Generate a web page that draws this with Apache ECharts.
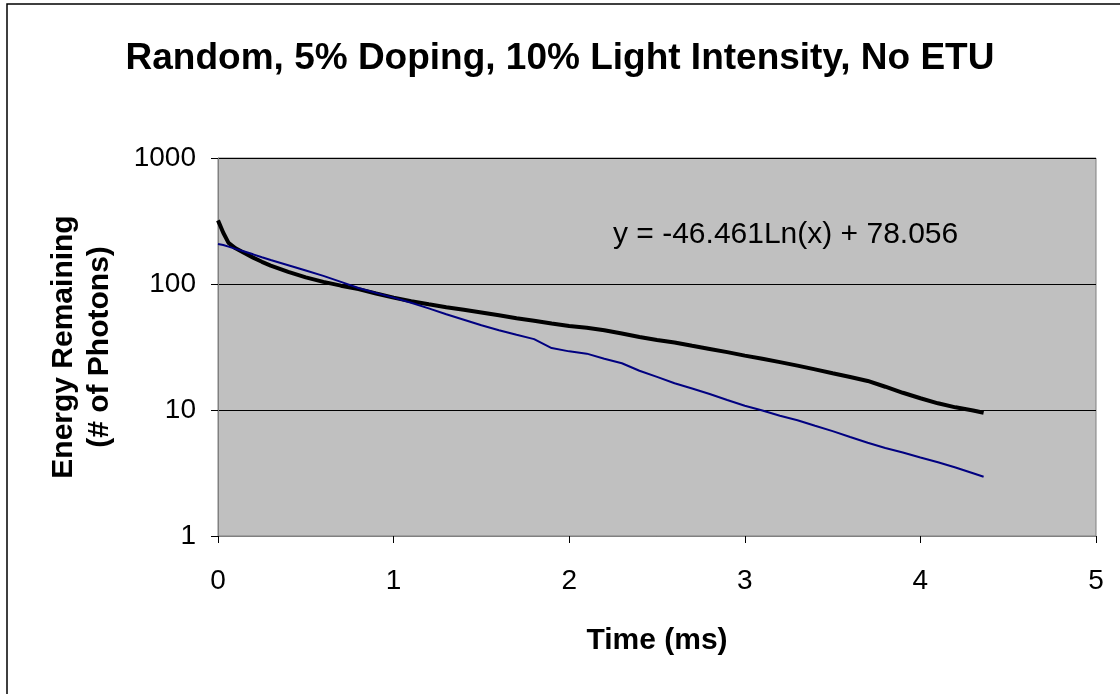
<!DOCTYPE html>
<html>
<head>
<meta charset="utf-8">
<script src="https://cdn.jsdelivr.net/npm/echarts@6/dist/echarts.min.js"></script>
<style>
  html, body { margin: 0; padding: 0; background: #fff; }
  #main { width: 1120px; height: 694px; }
</style>
</head>
<body>
<div id="main"></div>
<script>
// time (ms), shared by both curves
var times = [0, 0.03, 0.06, 0.1, 0.15, 0.2, 0.25, 0.3,
  0.4, 0.5, 0.6, 0.7, 0.8, 0.9, 1.0, 1.1, 1.2, 1.3, 1.4, 1.5,
  1.6, 1.7, 1.8, 1.9, 2.0, 2.1, 2.2, 2.3, 2.4, 2.5,
  2.6, 2.7, 2.8, 2.9, 3.0, 3.1, 3.2, 3.3, 3.4, 3.5,
  3.6, 3.7, 3.8, 3.9, 4.0, 4.1, 4.2, 4.3, 4.36];

// thick black curve
var energyBlack = [320, 255, 212, 192, 176, 162, 150, 140,
  125, 113, 104, 97, 91, 84, 78, 73, 69, 65.5, 62.5, 59.5,
  56.5, 53.5, 51, 48.5, 46.5, 45, 43, 40.5, 38, 36,
  34.3, 32.3, 30.5, 28.8, 27, 25.5, 24, 22.5, 21, 19.6,
  18.3, 17, 15.3, 13.7, 12.4, 11.3, 10.5, 9.9, 9.5];

// thin blue curve
var energyBlue = [208, 204, 198, 190, 181, 172, 163, 155,
  141, 128, 116, 104, 93, 85, 78, 71, 64, 57.5, 52, 47,
  43, 39.5, 36.5, 31, 29.2, 28, 25.5, 23.5, 20.5, 18.3,
  16.3, 14.8, 13.4, 12.0, 10.8, 9.9, 9.0, 8.3, 7.5, 6.8,
  6.1, 5.5, 5.0, 4.6, 4.2, 3.85, 3.5, 3.15, 2.95];

var titleText = "Random, 5% Doping, 10% Light Intensity, No ETU";
var trendText = "y = -46.461Ln(x) + 78.056";

function pairs(xs, ys) {
  return xs.map(function (x, i) { return [x, ys[i]]; });
}

var font = "'Liberation Sans', Arial, sans-serif";

var chart = echarts.init(document.getElementById("main"), null, { renderer: "canvas" });

var option = {
  animation: false,
  title: {
    text: titleText,
    left: "center",
    top: 35,
    textStyle: { fontFamily: font, fontSize: 37, fontWeight: "bold", color: "#000" }
  },
  grid: {
    left: 218, top: 158, right: 24, bottom: 158,
    show: true,
    backgroundColor: "#c0c0c0",
    borderColor: "#808080",
    borderWidth: 1
  },
  xAxis: {
    type: "value",
    min: 0, max: 5, interval: 1,
    name: "Time (ms)",
    nameLocation: "middle",
    nameGap: 90,
    nameTextStyle: { fontFamily: font, fontSize: 30, fontWeight: "bold", color: "#000" },
    axisLine: { show: true, lineStyle: { color: "#808080", width: 1 } },
    axisTick: { show: true, inside: false, length: 7, lineStyle: { color: "#000" } },
    axisLabel: { fontFamily: font, fontSize: 28, color: "#000", margin: 31 },
    splitLine: { show: false }
  },
  yAxis: {
    type: "log",
    logBase: 10,
    min: 1, max: 1000,
    name: "Energy Remaining\n(# of Photons)",
    nameLocation: "middle",
    nameGap: 100,
    nameRotate: 90,
    nameTextStyle: { fontFamily: font, fontSize: 30, fontWeight: "bold", color: "#000", lineHeight: 36 },
    axisLine: { show: true, lineStyle: { color: "#808080", width: 1 } },
    axisTick: { show: true, inside: false, length: 7, lineStyle: { color: "#000" } },
    axisLabel: {
      fontFamily: font, fontSize: 28, color: "#000", margin: 22,
      formatter: function (v) { return String(Math.round(v)); }
    },
    splitLine: { show: true, lineStyle: { color: "#000", width: 1 } }
  },
  graphic: [
    {
      type: "rect",
      shape: { x: 7, y: 4, width: 1120, height: 700 },
      style: { fill: "none", stroke: "#000", lineWidth: 1.5 },
      silent: true,
      z: 100
    },
    {
      type: "text",
      left: 613,
      top: 220,
      style: { text: trendText, fontFamily: font, fontSize: 30, fill: "#000" },
      z: 100
    }
  ],
  series: [
    {
      name: "black",
      type: "line",
      data: pairs(times, energyBlack),
      showSymbol: false,
      lineStyle: { color: "#000", width: 4 },
      z: 2
    },
    {
      name: "blue",
      type: "line",
      data: pairs(times, energyBlue),
      showSymbol: false,
      lineStyle: { color: "#000080", width: 2 },
      z: 3
    }
  ]
};

chart.setOption(option);
</script>
</body>
</html>
